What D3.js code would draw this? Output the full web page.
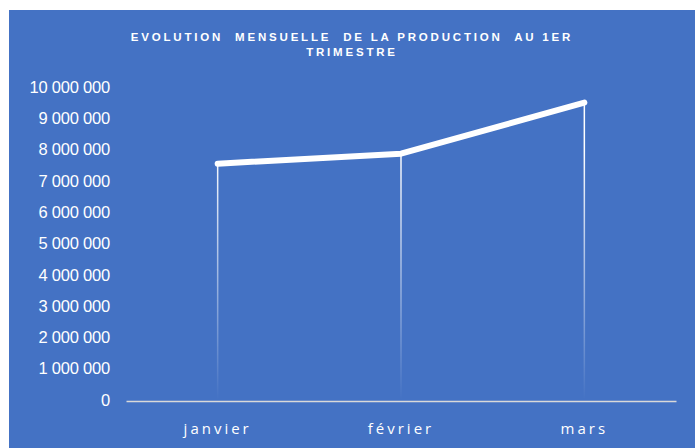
<!DOCTYPE html>
<html>
<head>
<meta charset="utf-8">
<script src="https://cdn.jsdelivr.net/npm/d3@7"></script>
<style>
  body { margin: 0; background: #fff; }
</style>
</head>
<body>
<script>
// donnees du graphique
var mois = ["janvier", "février", "mars"];
var production = [7550000, 7870000, 9500000];
var graduations = [0, 1000000, 2000000, 3000000, 4000000, 5000000, 6000000, 7000000, 8000000, 9000000, 10000000];
var titre = ["EVOLUTION  MENSUELLE  DE LA PRODUCTION  AU 1ER", "TRIMESTRE"];

var width = 695, height = 448;
var gauche = 126, droite = 676, haut = 87, bas = 400;

var svg = d3.select("body").append("svg")
    .attr("width", width)
    .attr("height", height);

// fond bleu
svg.append("rect")
    .attr("x", 9)
    .attr("y", 10)
    .attr("width", width - 9)
    .attr("height", height - 10)
    .attr("fill", "#4472C4");

var x = d3.scaleBand().domain(mois).range([gauche, droite]);
var y = d3.scaleLinear().domain([0, 10000000]).range([bas, haut]);

// degrade pour les lignes de projection
var defs = svg.append("defs");
var grad = defs.append("linearGradient")
    .attr("id", "fondu")
    .attr("gradientUnits", "userSpaceOnUse")
    .attr("x1", 0).attr("x2", 0)
    .attr("y1", y(8000000)).attr("y2", bas);
grad.append("stop").attr("offset", "0").attr("stop-color", "#fff").attr("stop-opacity", 1);
grad.append("stop").attr("offset", "1").attr("stop-color", "#fff").attr("stop-opacity", 0);

// titre
svg.append("text")
    .attr("x", 352)
    .attr("y", 41)
    .attr("text-anchor", "middle")
    .attr("font-family", "Liberation Sans, Arial, sans-serif")
    .attr("font-size", 11.5)
    .attr("font-weight", "bold")
    .attr("fill", "#fff")
    .attr("letter-spacing", 2.8)
    .attr("xml:space", "preserve")
    .selectAll("tspan")
    .data(titre)
    .enter()
    .append("tspan")
    .attr("x", 352)
    .attr("dy", function(d, i) { return i == 0 ? 0 : 15; })
    .text(function(d) { return d; });

// axe vertical (etiquettes seulement)
var fmt = function(v) { return d3.format(",")(v).replace(/,/g, " "); };
var axeY = svg.append("g")
    .attr("transform", "translate(110,0)")
    .call(d3.axisLeft(y).tickValues(graduations).tickSize(0).tickPadding(0).tickFormat(fmt));
axeY.select(".domain").remove();
axeY.selectAll("text")
    .attr("font-family", "Liberation Sans, Arial, sans-serif")
    .attr("font-size", 16.5)
    .attr("letter-spacing", -0.2)
    .attr("fill", "#fff");

// lignes de projection
svg.selectAll(".projection")
    .data(production)
    .enter()
    .append("line")
    .attr("class", "projection")
    .attr("x1", function(d, i) { return x(mois[i]) + x.bandwidth() / 2; })
    .attr("x2", function(d, i) { return x(mois[i]) + x.bandwidth() / 2; })
    .attr("y1", function(d) { return y(d); })
    .attr("y2", bas)
    .attr("stroke", "url(#fondu)")
    .attr("stroke-width", 1.5);

// axe horizontal
var axeX = svg.append("g")
    .attr("transform", "translate(0," + (bas + 1) + ")")
    .call(d3.axisBottom(x).tickSize(0).tickPadding(0));
axeX.select(".domain")
    .attr("stroke", "#D9D9D9")
    .attr("stroke-width", 1.5);
axeX.selectAll("text")
    .attr("dy", 0)
    .attr("y", 33)
    .attr("font-family", "Open Sans, sans-serif")
    .attr("font-size", 15)
    .attr("letter-spacing", 3)
    .attr("fill", "#fff");

// courbe
var ligne = d3.line()
    .x(function(d, i) { return x(mois[i]) + x.bandwidth() / 2; })
    .y(function(d) { return y(d); });

svg.append("path")
    .datum(production)
    .attr("d", ligne)
    .attr("fill", "none")
    .attr("stroke", "#fff")
    .attr("stroke-width", 6)
    .attr("stroke-linecap", "round")
    .attr("stroke-linejoin", "round");
</script>
</body>
</html>
